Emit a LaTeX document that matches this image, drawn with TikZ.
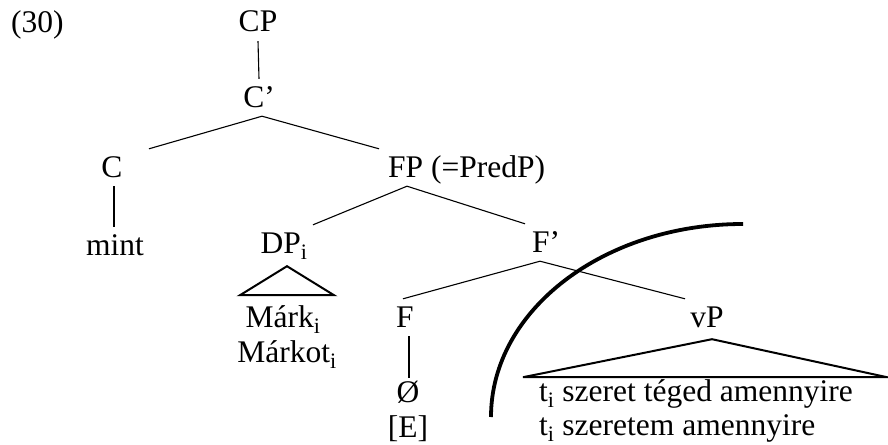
\documentclass[tikz,border=0pt]{standalone}
\usepackage{fontspec}
\setmainfont{Liberation Serif}
\begin{document}
\begin{tikzpicture}[x=1pt,y=-1pt,
  lab/.style={anchor=base,inner sep=0pt,text height=28pt,text depth=9pt,font=\fontsize{31.5}{36}\selectfont},
  plain/.style={anchor=base,inner sep=0pt,font=\fontsize{31.5}{36}\selectfont},
  branch/.style={line width=1.1pt},
  tri/.style={line width=2pt,line join=miter},
  bigarc/.style={line width=3.8pt}]
\useasboundingbox (0,0) rectangle (888,444);
\newcommand{\sbi}{\textsubscript{i}}
\node[plain,anchor=base west] (ex) at (11,33) {(30)};
\node[lab] (cp) at (258,32) {CP};
\node[lab] (cbar) at (259,107) {C’};
\node[lab] (c) at (112,177) {C};
\node[lab] (mint) at (115,255) {mint};
\node[lab,anchor=base west] (fp) at (388,177) {FP (=PredP)};
\node[lab] (dp) at (284,253) {DP\sbi};
\node[lab] (fbar) at (546,252) {F’};
\node[lab] (f) at (405,327) {F};
\node[lab] (vp) at (707,327) {vP};
\node[lab] (zero) at (408,402) {Ø};
\node[plain] (e) at (408,437) {[E]};
\node[plain] (m1) at (283,327) {Márk\sbi};
\node[plain] (m2) at (287,362) {Márkot\sbi};
\node[plain,anchor=base west] (t1) at (539,401) {t\sbi{} szeret téged amennyire};
\node[plain,anchor=base west] (t2) at (539,435) {t\sbi{} szeretem amennyire};
% branches
\draw[branch] (cp.south) -- (cbar.north);
\draw[branch] ([xshift=3pt]cbar.south) -- ([xshift=37pt]c.north);
\draw[branch] ([xshift=3pt]cbar.south) -- ([xshift=-9pt]fp.north west);
\draw[branch] ([xshift=2pt]c.south) -- ([xshift=-1pt]mint.north);
\draw[branch] ([xshift=19pt]fp.south west) -- ([xshift=29pt]dp.north);
\draw[branch] ([xshift=19pt]fp.south west) -- ([xshift=-21pt]fbar.north);
\draw[branch] ([xshift=-6pt]fbar.south) -- ([xshift=-2pt]f.north);
\draw[branch] ([xshift=-6pt]fbar.south) -- ([xshift=-22pt]vp.north);
\draw[branch] ([xshift=4pt]f.south) -- ([xshift=1pt,yshift=-4pt]zero.north);
% triangles
\draw[tri] ([xshift=3pt,yshift=-4pt]dp.south) -- ++(-47,29) -- ++(94,0) -- cycle;
\draw[tri] ([xshift=5pt,yshift=-3pt]vp.south) -- ++(-189,38) -- ++(364,0) -- cycle;
% arc
\coordinate (arcA) at (743,224);
\coordinate (arcB) at (491,417);
\draw[bigarc] (arcA) .. controls (604,224) and (491,310) .. (arcB);
\end{tikzpicture}
\end{document}
